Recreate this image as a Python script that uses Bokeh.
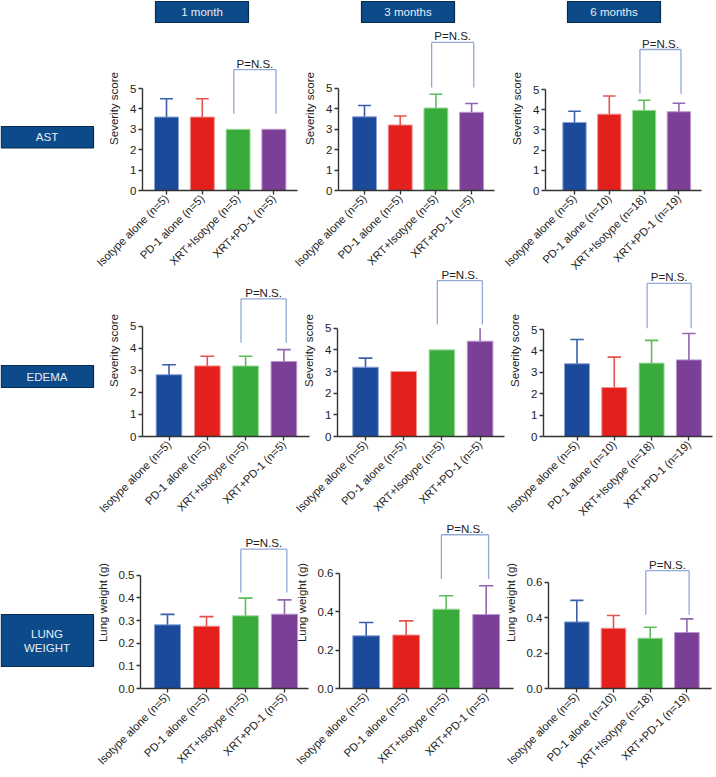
import math
from bokeh.plotting import figure
from bokeh.layouts import column, row
from bokeh.models import Range1d, FixedTicker, PrintfTickFormatter, ColumnDataSource
from bokeh.core.properties import value
from bokeh.embed import file_html
from bokeh.resources import INLINE

# ---------------- data ----------------
TIMEPOINTS = ["1 month", "3 months", "6 months"]
MEASURES = [["AST"], ["EDEMA"], ["LUNG", "WEIGHT"]]
Y_TITLES = ["Severity score", "Severity score", "Lung weight (g)"]

GROUPS_EARLY = ["Isotype alone (n=5)", "PD-1 alone (n=5)", "XRT+Isotype (n=5)", "XRT+PD-1 (n=5)"]
GROUPS_6M = ["Isotype alone (n=5)", "PD-1 alone (n=10)", "XRT+Isotype (n=18)", "XRT+PD-1 (n=19)"]

AST_1M = [3.6, 3.6, 3.0, 3.0]
AST_1M_UP = [4.5, 4.5, None, None]
AST_3M = [3.6, 3.2, 4.03, 3.82]
AST_3M_UP = [4.15, 3.64, 4.7, 4.25]
AST_6M = [3.37, 3.78, 3.97, 3.9]
AST_6M_UP = [3.92, 4.68, 4.47, 4.32]

EDEMA_1M = [2.8, 3.2, 3.2, 3.4]
EDEMA_1M_UP = [3.25, 3.64, 3.64, 3.94]
EDEMA_3M = [3.2, 3.0, 4.0, 4.4]
EDEMA_3M_UP = [3.62, None, None, 5.0]
EDEMA_6M = [3.4, 2.29, 3.43, 3.58]
EDEMA_6M_UP = [4.53, 3.71, 4.49, 4.81]

LUNG_1M = [0.281, 0.275, 0.321, 0.328]
LUNG_1M_UP = [0.327, 0.317, 0.399, 0.391]
LUNG_3M = [0.275, 0.279, 0.414, 0.386]
LUNG_3M_UP = [0.344, 0.353, 0.484, 0.536]
LUNG_6M = [0.377, 0.341, 0.285, 0.317]
LUNG_6M_UP = [0.499, 0.413, 0.347, 0.394]

Y_TICKS_SCORE = [0, 1, 2, 3, 4, 5]
Y_TICKS_LUNG_1M = [0.0, 0.1, 0.2, 0.3, 0.4, 0.5]
Y_TICKS_LUNG = [0.0, 0.2, 0.4, 0.6]

# significance brackets (XRT+Isotype vs XRT+PD-1): top of bracket, foot of bracket
BRACKET_TOP = [[5.93, 7.23, 6.98], [6.24, 7.2, 7.16], [0.615, 0.802, 0.667]]
BRACKET_FOOT = [[3.76, 5.03, 4.79], [4.25, 5.17, 5.06], [0.424, 0.571, 0.418]]
BRACKET_TEXT = "P=N.S."

PANELS = [
    [(AST_1M, AST_1M_UP, GROUPS_EARLY), (AST_3M, AST_3M_UP, GROUPS_EARLY), (AST_6M, AST_6M_UP, GROUPS_6M)],
    [(EDEMA_1M, EDEMA_1M_UP, GROUPS_EARLY), (EDEMA_3M, EDEMA_3M_UP, GROUPS_EARLY), (EDEMA_6M, EDEMA_6M_UP, GROUPS_6M)],
    [(LUNG_1M, LUNG_1M_UP, GROUPS_EARLY), (LUNG_3M, LUNG_3M_UP, GROUPS_EARLY), (LUNG_6M, LUNG_6M_UP, GROUPS_6M)],
]
PANEL_TICKS = [
    [Y_TICKS_SCORE, Y_TICKS_SCORE, Y_TICKS_SCORE],
    [Y_TICKS_SCORE, Y_TICKS_SCORE, Y_TICKS_SCORE],
    [Y_TICKS_LUNG_1M, Y_TICKS_LUNG, Y_TICKS_LUNG],
]

# ---------------- style / layout ----------------
FONT = "Liberation Sans"
FS = "11.5px"
FS_X = "11.2px"
BAR_FILL = ["#1b4a9b", "#e3201b", "#39ab3a", "#7b3f97"]
BAR_LINE = ["#8aa3d6", "#f29490", "#a4dba4", "#bb98cf"]
ERR_COL = ["#3a60ad", "#e4544f", "#5cbd5c", "#9366b0"]
BRACKET_COL = "#93aad4"
AXIS_COL = "#333333"
TXT_COL = "#222222"
BOX_FILL = "#0c4a89"
BOX_LINE = "#062a50"
BOX_TEXT = "#e6edf7"

PAGE_W, PAGE_H = 716, 777
# chart columns (px), overlapping transparent canvases
COLS = [(78, 322), (280, 522), (488, 716)]
# rows: (canvas top, canvas bottom, frame top)
ROWS = [(24, 292, 26), (262, 534, 264), (514, 777, 516)]
# per panel: y-axis x, first bar centre, bar spacing, frame right, baseline y, px per unit
GEOM = [
    [(142, 166, 35.8, 297, 190, 20.4), (338, 364, 35.7, 494, 191, 20.6), (545, 574, 34.8, 701, 190, 20.2)],
    [(142, 168.5, 38.3, 309, 436, 22.06), (337, 365, 38.2, 504, 436, 21.66), (543, 576.5, 37.3, 712, 436, 21.4)],
    [(140, 167, 39, 308, 688, 226.6), (339, 365.7, 40, 513, 688, 191.7), (548, 576.3, 36.7, 711, 689, 177.7)],
]
HEADER_BOX_LEFT = [155, 361, 567]
HEADER_BOX = (1, 22, 93)
ROW_BOXES = [(126, 147.5), (365, 387), (614, 666)]
ROW_BOX_W = 93


def R(v):
    return int(round(v))


def make_panel(ri, ci):
    ax, c0, sp, right, y0, ppu = GEOM[ri][ci]
    cl, cr = COLS[ci]
    rt, rb, ft = ROWS[ri]
    W = R(cr) - R(cl)
    H = R(rb) - R(rt)
    mbl = R(ax) - R(cl)
    fw = R(right) - R(ax)
    mbr = W - mbl - fw
    mbt = R(ft) - R(rt)
    fh = R(y0) - R(ft)
    mbb = H - mbt - fh
    xs = -(c0 - ax) / sp
    xe = xs + fw / sp
    ye = fh / ppu
    p = figure(width=W, height=H, min_border_left=mbl, min_border_right=mbr,
               min_border_top=mbt, min_border_bottom=mbb,
               x_range=Range1d(xs, xe), y_range=Range1d(0, ye),
               output_backend="svg", toolbar_location=None, tools="", align="start")
    p.outline_line_color = None
    p.background_fill_color = None
    p.border_fill_color = None
    p.xgrid.visible = False
    p.ygrid.visible = False

    means, ups, groups = PANELS[ri][ci]
    ticks = PANEL_TICKS[ri][ci]
    ymax = ticks[-1]
    idx = list(range(len(means)))
    src = ColumnDataSource(dict(x=idx, top=means, fill=BAR_FILL, line=BAR_LINE))
    p.vbar(x="x", top="top", bottom=0, width=0.67, fill_color="fill", line_color="line",
           line_width=1, source=src)

    ex, ey0, ey1, ec = [], [], [], []
    cx0, cx1, cy, cc = [], [], [], []
    for i, (m, u) in enumerate(zip(means, ups)):
        if u is None:
            continue
        ex.append(i); ey0.append(m); ey1.append(u); ec.append(ERR_COL[i])
        if u < ymax:
            cx0.append(i - 0.18); cx1.append(i + 0.18); cy.append(u); cc.append(ERR_COL[i])
    p.segment(x0=ex, y0=ey0, x1=ex, y1=ey1, line_color=ec, line_width=1.6)
    p.segment(x0=cx0, y0=cy, x1=cx1, y1=cy, line_color=cc, line_width=1.6)

    top = BRACKET_TOP[ri][ci]
    foot = BRACKET_FOOT[ri][ci]
    xl, xr = 2 - 0.12, 3 + 0.06
    p.segment(x0=[xl, xl, xr], y0=[foot, top, foot], x1=[xl, xr, xr], y1=[top, top, top],
              line_color=BRACKET_COL, line_width=1.3)
    p.text(x=[(xl + xr) / 2], y=[top], text=[BRACKET_TEXT], text_align="center",
           text_baseline="alphabetic", y_offset=-6, text_font=value(FONT),
           text_font_size=FS, text_color=TXT_COL)

    for a in (p.xaxis[0], p.yaxis[0]):
        a.axis_line_color = AXIS_COL
        a.axis_line_width = 1.4
        a.major_tick_line_color = AXIS_COL
        a.major_tick_line_width = 1.3
        a.major_tick_in = 0
        a.major_tick_out = 4
        a.minor_tick_line_color = None
        a.major_label_text_font = FONT
        a.major_label_text_font_size = FS
        a.major_label_text_color = TXT_COL

    ya = p.yaxis[0]
    ya.ticker = FixedTicker(ticks=ticks)
    ya.bounds = (0, ymax)
    ya.formatter = PrintfTickFormatter(format="%.1f" if ymax < 1 else "%d")
    ya.axis_label = Y_TITLES[ri]
    ya.axis_label_text_font = FONT
    ya.axis_label_text_font_size = FS
    ya.axis_label_text_font_style = "normal"
    ya.axis_label_text_color = TXT_COL
    ya.major_label_standoff = 2
    ya.axis_label_standoff = 7

    xa = p.xaxis[0]
    xa.ticker = FixedTicker(ticks=idx)
    xa.major_label_overrides = {i: g for i, g in enumerate(groups)}
    xa.major_label_orientation = math.pi / 4
    xa.major_label_standoff = 2
    xa.major_label_text_font_size = FS_X
    return p


def background_fig():
    # page-sized canvas in pixel units for the header and row label boxes
    p = figure(width=PAGE_W, height=PAGE_H, x_range=Range1d(0, PAGE_W),
               y_range=Range1d(PAGE_H, 0), x_axis_type=None, y_axis_type=None,
               output_backend="svg", toolbar_location=None, tools="", align="start",
               min_border_left=0, min_border_right=0, min_border_top=0, min_border_bottom=0)
    p.outline_line_color = None
    p.background_fill_color = None
    p.border_fill_color = None
    p.grid.visible = False
    bt, bb, bw = HEADER_BOX
    lefts = HEADER_BOX_LEFT
    p.quad(left=lefts, right=[l + bw for l in lefts], top=[bt] * 3, bottom=[bb] * 3,
           fill_color=BOX_FILL, line_color=BOX_LINE, line_width=1.2)
    p.text(x=[l + bw / 2 for l in lefts], y=[(bt + bb) / 2] * 3, text=TIMEPOINTS,
           text_align="center", text_baseline="middle", text_font=value(FONT),
           text_font_size=FS, text_color=BOX_TEXT)
    p.quad(left=[0.7] * 3, right=[ROW_BOX_W] * 3, top=[b[0] for b in ROW_BOXES],
           bottom=[b[1] for b in ROW_BOXES], fill_color=BOX_FILL, line_color=BOX_LINE,
           line_width=1.2)
    tx, ty, tt = [], [], []
    for (b0, b1), lines in zip(ROW_BOXES, MEASURES):
        n = len(lines)
        mid = (b0 + b1) / 2
        for k, t in enumerate(lines):
            tx.append(ROW_BOX_W / 2)
            ty.append(mid + (k - (n - 1) / 2) * 14)
            tt.append(t)
    p.text(x=tx, y=ty, text=tt, text_align="center", text_baseline="middle",
           text_font=value(FONT), text_font_size=FS, text_color=BOX_TEXT)
    return p


rows = []
prev_bottom = 0
for ri in range(3):
    children = []
    prev_right = 0
    for ci in range(3):
        pnl = make_panel(ri, ci)
        cl, cr = COLS[ci]
        pnl.margin = (0, 0, 0, R(cl) - R(prev_right))
        prev_right = cr
        children.append(pnl)
    r = row(*children, align="start")
    rt, rb, _ = ROWS[ri]
    r.margin = (R(rt) - R(prev_bottom), 0, 0, 0)
    prev_bottom = rb
    rows.append(r)

grid = column(*rows, align="start")
grid.margin = (-PAGE_H, 0, 0, 0)
layout = column(background_fig(), grid)
open("out.html", "w").write(file_html(layout, INLINE))
